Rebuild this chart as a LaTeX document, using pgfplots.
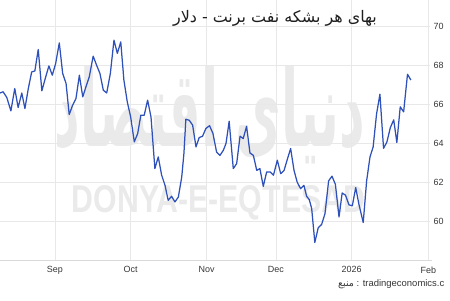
\documentclass[border=0pt]{standalone}
\usepackage{pgfplots}
\pgfplotsset{compat=1.18}
\usepackage{fontspec}
\setmainfont{Liberation Sans}
\newfontfamily\arabicfont[Script=Arabic]{DejaVu Sans}
\TeXXeTstate=1
\definecolor{linec}{RGB}{45,80,185}
\definecolor{gridc}{RGB}{232,232,232}
\definecolor{axc}{RGB}{218,218,218}
\definecolor{labc}{RGB}{55,55,55}
\definecolor{wmc}{RGB}{234,234,234}
\begin{document}
\begin{tikzpicture}[x=1bp,y=1bp]
\useasboundingbox (0,0) rectangle (450,300);
% watermark
\node[inner sep=0, text=wmc] at (218.5,97) {\resizebox{293bp}{27bp}{\bfseries DONYA-E-EQTESAD}};
\node[inner sep=0, text=wmc] at (210,185) {\resizebox{310bp}{80bp}{\arabicfont\bfseries\beginR دنیای اقتصاد\endR}};
\begin{axis}[
  at={(0bp,40bp)}, anchor=south west,
  width=430bp, height=260bp, scale only axis,
  xmin=-23, xmax=154.7, ymin=58, ymax=71.34,
  axis line style={draw=none},
  xtick={-0.3,31.0,62.4,91.0,122.3,154.0},
  xticklabels={Sep,Oct,Nov,Dec,2026,Feb},
  ytick={60,62,64,66,68,70},
  yticklabel pos=right,
  major tick length=0pt,
  grid=major,
  major grid style={gridc, line width=0.6pt},
  tick label style={font=\fontsize{9}{11}\selectfont, text=labc},
  xticklabel style={yshift=-3bp},
  yticklabel style={xshift=0bp},
  /pgf/number format/assume math mode=true,
  clip=false,
]
\draw[axc, line width=0.8pt] (axis cs:-23,58) -- (axis cs:155.5,58);
\addplot[linec, line width=1.25pt, line join=round] table {
x y
-23.0 66.57
-21.7 66.63
-20.2 66.34
-18.5 65.65
-16.9 66.80
-15.5 65.82
-14.0 66.57
-12.7 65.77
-11.3 66.80
-9.9 67.65
-8.6 67.70
-7.2 68.80
-5.7 66.68
-4.1 67.40
-2.8 67.96
-1.4 67.48
0.0 68.08
1.5 69.14
2.9 67.57
4.3 67.06
5.6 65.46
7.0 65.94
8.4 66.29
9.8 67.48
11.2 66.37
12.5 66.88
13.9 67.40
15.5 68.46
16.9 68.00
18.3 67.57
19.7 66.71
21.1 66.57
22.6 67.57
24.1 69.28
25.5 68.60
26.9 69.19
28.2 67.23
29.6 66.11
31.0 65.34
32.5 64.06
33.9 64.49
35.2 65.43
36.6 65.43
38.0 66.20
39.4 65.34
41.0 62.69
42.4 63.29
43.8 62.35
45.2 61.83
46.5 61.06
47.9 61.27
49.3 60.98
50.7 61.23
52.1 62.26
53.0 63.46
53.8 65.22
55.2 65.17
56.6 64.92
58.0 63.80
59.3 64.28
60.7 64.35
62.1 64.75
63.6 64.89
65.0 64.49
66.5 63.54
67.9 63.37
69.3 63.63
70.4 63.98
71.7 65.12
73.4 62.69
74.8 62.95
76.2 64.35
77.5 64.23
78.9 64.86
80.3 63.49
81.7 63.37
83.1 62.60
84.4 62.69
85.8 61.78
87.2 62.52
88.6 62.52
90.0 62.35
91.6 63.12
93.0 62.43
94.4 62.60
95.7 63.15
97.1 63.72
98.5 62.60
99.8 62.00
101.2 61.66
102.6 61.83
103.7 61.27
104.8 61.10
105.8 60.64
107.1 58.90
108.5 59.65
109.9 59.82
111.3 60.38
112.8 62.06
114.2 62.30
115.6 61.88
117.1 60.21
118.4 61.44
119.8 61.32
121.2 60.83
122.6 60.78
124.0 61.72
125.3 60.87
127.1 59.92
128.5 62.05
129.9 63.29
131.2 63.80
132.6 65.48
134.0 66.51
135.5 63.73
136.9 64.06
138.3 64.79
139.7 65.19
141.0 64.03
142.4 65.86
143.8 65.60
145.4 67.53
146.8 67.23
};
\end{axis}
\node[anchor=center, inner sep=0, text={rgb,255:red,30;green,30;blue,30}] at (275,282) {\fontsize{16}{18}\selectfont\arabicfont\beginR بهای هر بشکه نفت برنت - دلار\endR};
\node[anchor=west, inner sep=0, text=labc] at (338,16) {\fontsize{9.5}{11}\selectfont{\arabicfont\beginR منبع\endR} : tradingeconomics.c};
\end{tikzpicture}
\end{document}
